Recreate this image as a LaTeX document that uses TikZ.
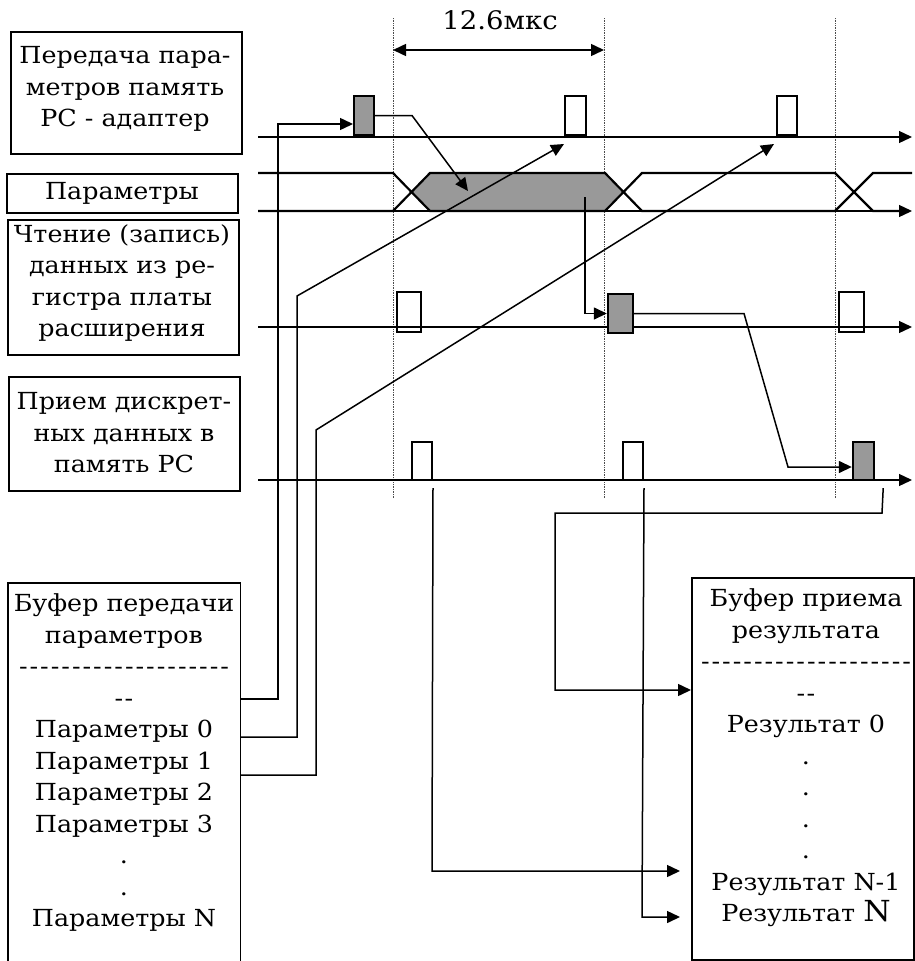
\documentclass[tikz,border=0pt]{standalone}
\usepackage{fontspec}
\setmainfont{DejaVu Serif}[FakeStretch=1.08]
\usetikzlibrary{arrows.meta,calc}
\definecolor{pgrey}{RGB}{153,153,153}
\newcommand\dashrule{\hbox to 212pt{\leaders\hbox to 10.6pt{\hss-\hss}\hfill}}
\newcommand\dashpair{\hbox to 20pt{\leaders\hbox to 10pt{\hss-\hss}\hfill}}
\begin{document}
\begin{tikzpicture}[x=1pt,y=-1pt,
  lbl/.style={font=\fontsize{23.5}{31.5}\selectfont, align=center, inner sep=0pt},
  frame/.style={draw, line width=1.6pt, inner sep=0pt, anchor=north west},
  sig/.style={line width=1.3pt},
  bus/.style={line width=2.2pt},
  conn/.style={line width=1.5pt},
  tip/.style={-{Triangle[length=13pt,width=12pt]}},
  pulse/.style={draw, line width=2pt, inner sep=0pt},
  guide/.style={densely dotted, line width=0.7pt, black!70},
]
\useasboundingbox (0,0) rectangle (914,961);

% label frames
\node[frame, minimum width=231pt, minimum height=122pt] (b1) at (10,31) {};
\node[frame, minimum width=231pt, minimum height=39pt] (b2) at (6,173) {};
\node[frame, minimum width=231pt, minimum height=135pt] (b3) at (7,219) {};
\node[frame, minimum width=231pt, minimum height=114pt] (b4) at (8,376) {};
\node[inner sep=0pt, anchor=north west, minimum width=232pt, minimum height=380pt] (b5) at (8,583) {};
\draw[line width=1.6pt] (b5.south west) -- (b5.north west) -- (b5.north east) -- (b5.south east);
\node[frame, minimum width=222pt, minimum height=382pt] (b6) at (691,577) {};

\node[lbl] (t1) at (125,89) {Передача пара-\\метров память\\PC - адаптер};
\node[lbl] (t2) at (122,193) {Параметры};
\node[lbl] (t3) at (122,283) {Чтение (запись)\\данных из ре-\\гистра платы\\расширения};
\node[lbl] (t4) at (124,433) {Прием дискрет-\\ных данных в\\память PC};
\node[lbl] (t5) at (124,763) {Буфер передачи\\параметров\\\dashrule\\\dashpair\\Параметры 0\\Параметры 1\\Параметры 2\\Параметры 3\\.\\.\\Параметры N};
\node[lbl] (t6) at (806,758) {Буфер приема\\результата\\\dashrule\\\dashpair\\Результат 0\\.\\.\\.\\.\\Результат N-1\\Результат {\fontsize{29}{31.5}\selectfont N}};

% guides
\coordinate (g1t) at (393,18); \coordinate (g1b) at (393,498);
\coordinate (g2t) at (604,18); \coordinate (g2b) at (604,498);
\coordinate (g3t) at (835,18); \coordinate (g3b) at (835,498);
\draw[guide] (g1t) -- (g1b);
\draw[guide] (g2t) -- (g2b);
\draw[guide] (g3t) -- (g3b);
\coordinate (d1) at (393,50); \coordinate (d2) at (604,50);
\draw[conn,{Triangle[length=13pt,width=12pt]}-{Triangle[length=13pt,width=12pt]}] (d1) -- (d2);
\node[lbl, font=\fontsize{25.5}{31.5}\selectfont] (dim) at (500,20) {12.6мкс};

% signal lines
\coordinate (l1s) at (258,137); \coordinate (l1e) at (912,137);
\coordinate (l2s) at (258,211); \coordinate (l2e) at (912,211);
\coordinate (l3s) at (258,327); \coordinate (l3e) at (912,327);
\coordinate (l4s) at (258,480); \coordinate (l4e) at (912,480);
\draw[sig,tip] (l1s) -- (l1e);
\draw[sig,tip] (l2s) -- (l2e);
\draw[sig,tip] (l3s) -- (l3e);
\draw[sig,tip] (l4s) -- (l4e);

% bus
\fill[pgrey] (412,192) -- (430,173) -- (605,173) -- (623.5,192) -- (605,211) -- (430,211) -- cycle;
\draw[bus] (258,173) -- (393,173) -- (430,211) -- (605,211) -- (642,173) -- (835,173) -- (873,211) -- (900,211);
\draw[bus] (258,211) -- (393,211) -- (430,173) -- (605,173) -- (642,211) -- (835,211) -- (873,173) -- (912,173);

% pulses
\node[pulse, fill=pgrey, minimum width=20pt, minimum height=39pt] (p1) at (364,115.5) {};
\node[pulse, minimum width=21pt, minimum height=39pt] (p2) at (575.5,115.5) {};
\node[pulse, minimum width=20pt, minimum height=39pt] (p3) at (787,115.5) {};
\node[pulse, line width=2.4pt, minimum width=24pt, minimum height=40pt] (r1) at (409,312) {};
\node[pulse, line width=2.4pt, fill=pgrey, minimum width=25pt, minimum height=39pt] (r2) at (620.5,313.5) {};
\node[pulse, line width=2.4pt, minimum width=25pt, minimum height=40pt] (r3) at (851.5,312) {};
\node[pulse, minimum width=20pt, minimum height=38pt] (q1) at (422,461) {};
\node[pulse, minimum width=20pt, minimum height=38pt] (q2) at (633,461) {};
\node[pulse, line width=2.4pt, fill=pgrey, minimum width=21pt, minimum height=38pt] (q3) at (863.5,461) {};

% connectors
\draw[conn,tip] (b5.east |- 0,699) -- (278,699) -- (278,124) -- ($(p1.west)+(0,8.5)$);
\draw[conn,tip] (b5.east |- 0,737) -- (297,737) -- (297,296) -- ($(p2.south west)+(0,8)$);
\draw[conn,tip] (b5.east |- 0,775) -- (316,775) -- (316,430) -- ($(p3.south west)+(-2,8)$);
\draw[conn,tip] (p1.east) -- (412,115.5) -- (468,191);
\coordinate (bx) at (585,197);
\draw[conn,tip] (bx) |- (r2.west);
\draw[conn,tip] (r2.east) -- (744,313.5) -- (788,467) -- ($(q3.west)+(0,6)$);
\draw[conn,tip] ($(q1.south east)+(0,7)$) -- (432,871) -- (680,871);
\draw[conn,tip] ($(q2.south east)+(0,7)$) -- (642,917) -- (680,917);
\draw[conn,tip] ($(q3.south east)+(8,7)$) -- (882,513) -- (555,513) -- (555,690) -- (b6.west |- 0,690);
\end{tikzpicture}
\end{document}
